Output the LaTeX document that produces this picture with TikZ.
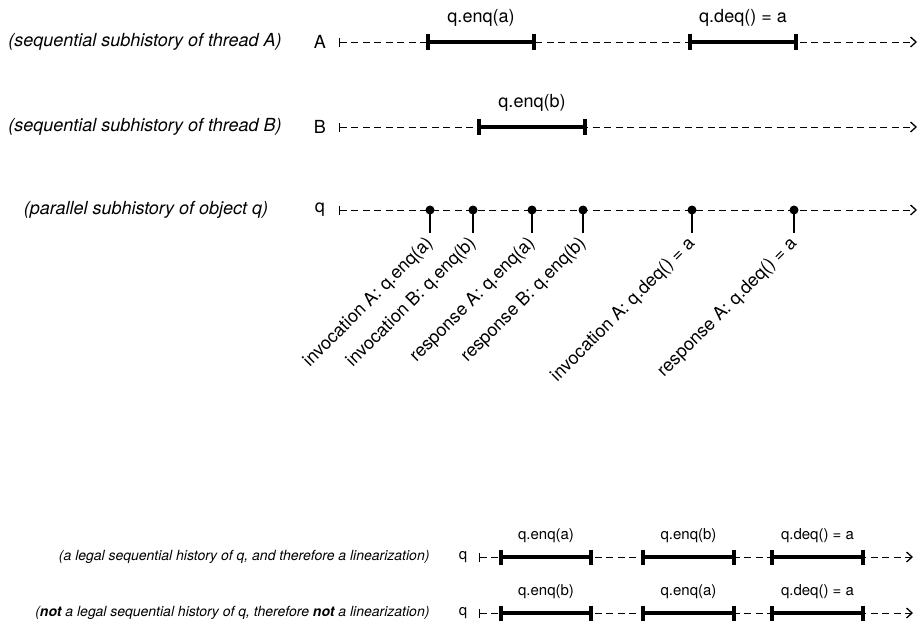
\documentclass[tikz,border=0pt]{standalone}
\usepackage{fontspec}
\setmainfont{TeX Gyre Heros}
\usetikzlibrary{arrows.meta}
\def\TickHalf{8pt}
\newcommand{\OpSpan}[3]{%
  \draw[opspan] (#1) -- node[oplabel] {#3} (#2);
  \draw[optick] ([yshift=\TickHalf]#1) -- ([yshift=-\TickHalf]#1);
  \draw[optick] ([yshift=\TickHalf]#2) -- ([yshift=-\TickHalf]#2);
}

\begin{document}
\begin{tikzpicture}[x=1pt,y=-1pt,font=\fontsize{18}{21}\selectfont,
 timeline/.style={line width=1pt,dash pattern=on 7pt off 4.5pt,
   {Bar[width=9pt]}-{Straight Barb[length=5.5pt,width=10pt,line width=1.3pt]}},
 opspan/.style={line width=4pt},
 optick/.style={line width=4pt},
 oplabel/.style={midway,above=13pt,inner sep=1pt},
 note/.style={font=\fontsize{18}{21}\selectfont\itshape},
 event/.style={line width=1.4pt},
 evlabel/.style={anchor=east,rotate=45,inner sep=1pt}]
\path[use as bounding box] (0,0) rectangle (919,622);

% thread A
\node[note] (noteA) at (145,42) {(sequential subhistory of thread A)};
\node (A) at (320,42) {A};
\coordinate (A0) at (339,42);
\coordinate (A1) at (917,42);
\draw[timeline] (A0) -- (A1);
\coordinate (Aenq0) at (428,42);
\coordinate (Aenq1) at (534,42);
\coordinate (Adeq0) at (690,42);
\coordinate (Adeq1) at (796,42);
\OpSpan{Aenq0}{Aenq1}{q.enq(a)}
\OpSpan{Adeq0}{Adeq1}{q.deq() = a}

% thread B
\node[note] (noteB) at (145,127) {(sequential subhistory of thread B)};
\node (B) at (320,127) {B};
\coordinate (B0) at (339,127);
\coordinate (B1) at (917,127);
\draw[timeline] (B0) -- (B1);
\coordinate (Benq0) at (479,127);
\coordinate (Benq1) at (585,127);
\OpSpan{Benq0}{Benq1}{q.enq(b)}

% object q
\node[note] (noteQ) at (146,210) {(parallel subhistory of object q)};
\node (Q) at (320,210) {q};
\coordinate (Q0) at (339,210);
\coordinate (Q1) at (917,210);
\draw[timeline] (Q0) -- (Q1);
\coordinate (Ev1) at (430,210);
\coordinate (Ev2) at (473,210);
\coordinate (Ev3) at (532,210);
\coordinate (Ev4) at (583,210);
\coordinate (Ev5) at (692,210);
\coordinate (Ev6) at (794,210);
\draw[event] (Ev1) -- ++(0,23) coordinate (Ev1s);
\draw[event] (Ev2) -- ++(0,23) coordinate (Ev2s);
\draw[event] (Ev3) -- ++(0,23) coordinate (Ev3s);
\draw[event] (Ev4) -- ++(0,23) coordinate (Ev4s);
\draw[event] (Ev5) -- ++(0,23) coordinate (Ev5s);
\draw[event] (Ev6) -- ++(0,23) coordinate (Ev6s);
\fill (Ev1) circle (4.5pt);
\fill (Ev2) circle (4.5pt);
\fill (Ev3) circle (4.5pt);
\fill (Ev4) circle (4.5pt);
\fill (Ev5) circle (4.5pt);
\fill (Ev6) circle (4.5pt);
\node[evlabel] (lab1) at ([shift={(1,7)}]Ev1s) {invocation A: q.enq(a)};
\node[evlabel] (lab2) at ([shift={(1,7)}]Ev2s) {invocation B: q.enq(b)};
\node[evlabel] (lab3) at ([shift={(1,7)}]Ev3s) {response A: q.enq(a)};
\node[evlabel] (lab4) at ([shift={(1,7)}]Ev4s) {response B: q.enq(b)};
\node[evlabel] (lab5) at ([shift={(1,7)}]Ev5s) {invocation A: q.deq() = a};
\node[evlabel] (lab6) at ([shift={(1,7)}]Ev6s) {response A: q.deq() = a};

% sequential histories
\begin{scope}[font=\fontsize{15}{18}\selectfont,
  note/.style={font=\fontsize{14}{17}\selectfont\itshape,anchor=east},
  oplabel/.style={midway,above=11pt,inner sep=1pt}]
\def\TickHalf{7.5pt}
\node[note] (noteL) at (433,557)
  {(a legal sequential history of q, and therefore a linearization)};
\node (L) at (463,557) {q};
\coordinate (L0) at (479,557);
\coordinate (L1) at (913,557);
\draw[timeline] (L0) -- (L1);
\coordinate (La0) at (501,557);
\coordinate (La1) at (591,557);
\coordinate (Lb0) at (643,557);
\coordinate (Lb1) at (734,557);
\coordinate (Lc0) at (772,557);
\coordinate (Lc1) at (863,557);
\OpSpan{La0}{La1}{q.enq(a)}
\OpSpan{Lb0}{Lb1}{q.enq(b)}
\OpSpan{Lc0}{Lc1}{q.deq() = a}

\node[note] (noteN) at (433,613)
  {(\textbf{not} a legal sequential history of q, therefore \textbf{not} a linearization)};
\node (N) at (463,613) {q};
\coordinate (N0) at (479,613);
\coordinate (N1) at (913,613);
\draw[timeline] (N0) -- (N1);
\coordinate (Na0) at (501,613);
\coordinate (Na1) at (591,613);
\coordinate (Nb0) at (643,613);
\coordinate (Nb1) at (734,613);
\coordinate (Nc0) at (772,613);
\coordinate (Nc1) at (863,613);
\OpSpan{Na0}{Na1}{q.enq(b)}
\OpSpan{Nb0}{Nb1}{q.enq(a)}
\OpSpan{Nc0}{Nc1}{q.deq() = a}
\end{scope}
\end{tikzpicture}
\end{document}
